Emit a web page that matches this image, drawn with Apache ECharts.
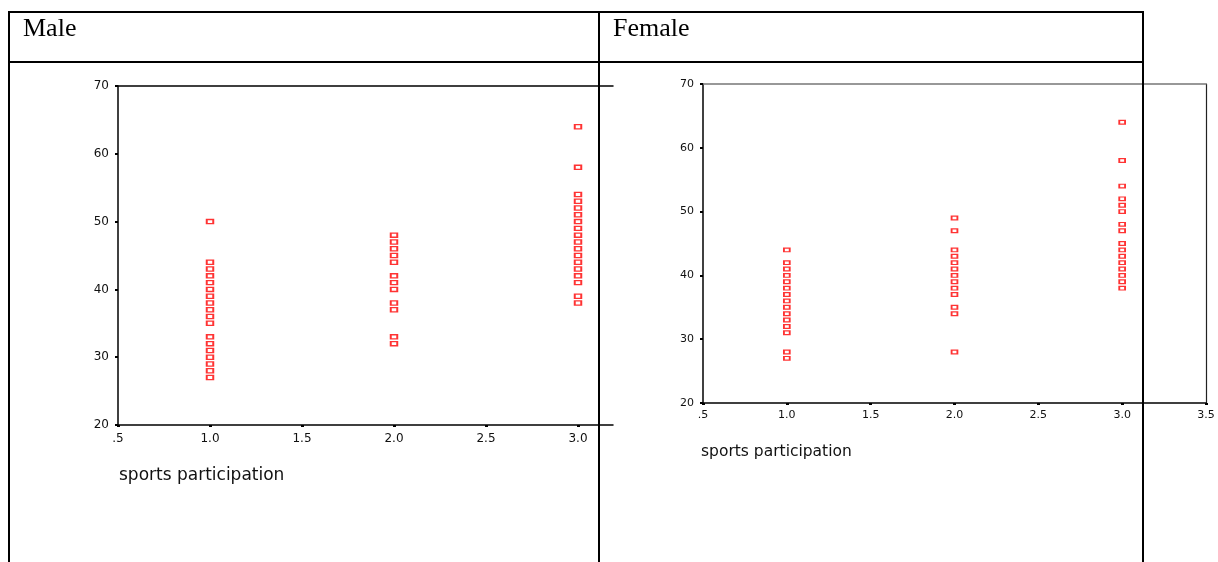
<!DOCTYPE html>
<html>
<head>
<meta charset="utf-8">
<title>sports participation</title>
<script src="https://cdn.jsdelivr.net/npm/echarts@6/dist/echarts.min.js"></script>
<style>
  html, body { margin: 0; padding: 0; background: #fff; }
  #chart { width: 1218px; height: 562px; }
</style>
</head>
<body>
<div id="chart"></div>
<script>
// sports participation level (x) for each column of points
const participation = [1, 2, 3]

// values, one list per participation level
const maleGroup1 = [50, 44, 43, 42, 41, 40, 39, 38, 37, 36, 35, 33, 32, 31, 30, 29, 28, 27]
const maleGroup2 = [48, 47, 46, 45, 44, 42, 41, 40, 38, 37, 33, 32]
const maleGroup3 = [64, 58, 54, 53, 52, 51, 50, 49, 48, 47, 46, 45, 44, 43, 42, 41, 39, 38]

const femaleGroup1 = [44, 42, 41, 40, 39, 38, 37, 36, 35, 34, 33, 32, 31, 28, 27]
const femaleGroup2 = [49, 47, 44, 43, 42, 41, 40, 39, 38, 37, 35, 34, 28]
const femaleGroup3 = [64, 58, 54, 52, 51, 50, 48, 47, 45, 44, 43, 42, 41, 40, 39, 38]

// tick labels
const maleXTicks = [0.5, 1, 1.5, 2, 2.5, 3]
const femaleXTicks = [0.5, 1, 1.5, 2, 2.5, 3, 3.5]
const yTicks = [20, 30, 40, 50, 60, 70]

const axisName = 'sports participation'

function toPoints(groups) {
  let pts = []
  groups.forEach((g, i) => {
    g.forEach(v => pts.push([participation[i], v]))
  })
  return pts
}

function fmtX(v) {
  return v.toFixed(1).replace(/^0/, '')
}

const tickFont = 'DejaVu Sans'

function xAxisBase(grid, ticks, max, size) {
  return {
    type: 'value',
    gridIndex: grid,
    min: 0.5,
    max: max,
    splitLine: { show: false },
    axisLine: { show: true, onZero: false, lineStyle: { color: '#000', width: 1.5 } },
    axisTick: { show: true, customValues: ticks, length: 2, lineStyle: { color: '#000', width: 3 } },
    axisLabel: {
      customValues: ticks,
      formatter: fmtX,
      color: '#111',
      fontFamily: tickFont,
      fontSize: size,
      margin: size === 12 ? 8 : 7
    }
  }
}

function yAxisBase(grid, size) {
  return {
    type: 'value',
    gridIndex: grid,
    min: yTicks[0],
    max: yTicks[yTicks.length - 1],
    interval: 10,
    splitLine: { show: false },
    axisLine: { show: true, onZero: false, lineStyle: { color: '#000', width: 1.5 } },
    axisTick: { show: true, length: 3, lineStyle: { color: '#000', width: 2 } },
    axisLabel: { color: '#111', fontFamily: tickFont, fontSize: size, margin: 9 }
  }
}

// frame lines that are not axes carry no ticks or labels
function frameAxis(grid, pos, min, max, color, width) {
  return {
    type: 'value',
    gridIndex: grid,
    position: pos,
    min: min,
    max: max,
    splitLine: { show: false },
    axisTick: { show: false },
    axisLabel: { show: false },
    axisLine: { show: true, onZero: false, lineStyle: { color: color, width: width } }
  }
}

const tableLine = { stroke: '#000', lineWidth: 2 }

const option = {
  animation: false,
  backgroundColor: '#fff',
  grid: [
    // male: clipped on the right just past 3.0
    { left: 118, top: 86, width: 495, height: 339 },
    { left: 703, top: 84, width: 503, height: 319 }
  ],
  xAxis: [
    xAxisBase(0, maleXTicks, 0.5 + 495 / 184, 12),
    xAxisBase(1, femaleXTicks, 3.5, 11),
    frameAxis(0, 'top', 0.5, 3.5, '#000', 1.5),
    frameAxis(1, 'top', 0.5, 3.5, '#777', 1.5)
  ],
  yAxis: [
    yAxisBase(0, 12),
    yAxisBase(1, 11),
    frameAxis(1, 'right', 20, 70, '#222', 1.2)
  ],
  series: [
    {
      name: 'Male',
      type: 'scatter',
      xAxisIndex: 0,
      yAxisIndex: 0,
      symbol: 'rect',
      symbolSize: [6.5, 4.2],
      itemStyle: { color: '#fff', borderColor: '#ff0000', borderWidth: 1.6 },
      data: toPoints([maleGroup1, maleGroup2, maleGroup3])
    },
    {
      name: 'Female',
      type: 'scatter',
      xAxisIndex: 1,
      yAxisIndex: 1,
      symbol: 'rect',
      symbolSize: [5.8, 3.7],
      itemStyle: { color: '#fff', borderColor: '#ff0000', borderWidth: 1.5 },
      data: toPoints([femaleGroup1, femaleGroup2, femaleGroup3])
    }
  ],
  graphic: [
    // table around the two plots
    { type: 'line', z: 100, shape: { x1: 8, y1: 12, x2: 1144, y2: 12 }, style: tableLine },
    { type: 'line', z: 100, shape: { x1: 9, y1: 62, x2: 1144, y2: 62 }, style: tableLine },
    { type: 'line', z: 100, shape: { x1: 9, y1: 11, x2: 9, y2: 562 }, style: tableLine },
    { type: 'line', z: 100, shape: { x1: 599, y1: 11, x2: 599, y2: 562 }, style: tableLine },
    { type: 'line', z: 100, shape: { x1: 1143, y1: 11, x2: 1143, y2: 562 }, style: tableLine },
    {
      type: 'text', z: 100, x: 23, y: 29,
      style: { text: 'Male', font: '26px "Liberation Serif"', fill: '#000', verticalAlign: 'middle' }
    },
    {
      type: 'text', z: 100, x: 613, y: 29,
      style: { text: 'Female', font: '26px "Liberation Serif"', fill: '#000', verticalAlign: 'middle' }
    },
    {
      type: 'text', x: 119, y: 476,
      style: { text: axisName, font: '17px "DejaVu Sans"', fill: '#111', verticalAlign: 'middle' }
    },
    {
      type: 'text', x: 701, y: 452,
      style: { text: axisName, font: '15.5px "DejaVu Sans"', fill: '#111', verticalAlign: 'middle' }
    }
  ]
}

let myChart = echarts.init(document.getElementById('chart'))
myChart.setOption(option)
</script>
</body>
</html>
